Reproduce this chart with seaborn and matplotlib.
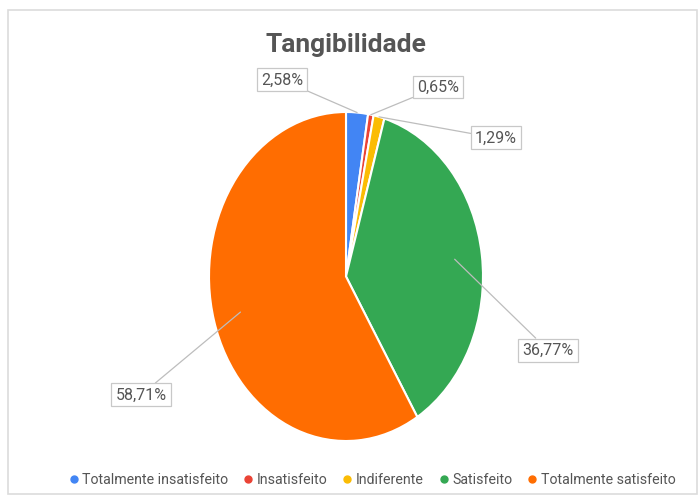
import numpy as np
import matplotlib
matplotlib.use("Agg")
import matplotlib.pyplot as plt
import matplotlib.patches as mpatches
from matplotlib.lines import Line2D
import seaborn as sns

# data
categories = ["Totalmente insatisfeito", "Insatisfeito", "Indiferente",
              "Satisfeito", "Totalmente satisfeito"]
shares = [2.58, 0.65, 1.29, 36.77, 58.71]
pct_labels = ["2,58%", "0,65%", "1,29%", "36,77%", "58,71%"]
colors = ["#4285F4", "#EA4335", "#FBBC04", "#34A853", "#FF6D01"]

sns.set_theme(style="white")
plt.rcParams["font.family"] = ["Roboto", "DejaVu Sans"]

W, H = 700, 497
fig = plt.figure(figsize=(W / 100, H / 100), dpi=100)

# outer chart frame
fig.patches.append(mpatches.Rectangle((8 / W, 3 / H), 689 / W, 484 / H,
                                      transform=fig.transFigure, fill=False,
                                      edgecolor="#dcdcdc", lw=1.2))

# pie is stretched vertically in the reference, so use a non-equal axes box
ax = fig.add_axes([209 / W, (H - 441) / H, 274 / W, 329 / H])
wedges, _ = ax.pie(shares, colors=colors, startangle=90, counterclock=False,
                   radius=1, wedgeprops=dict(edgecolor="white", linewidth=1.5))
ax.set_xlim(-1, 1)
ax.set_ylim(-1, 1)
ax.set_aspect("auto")
ax.axis("off")

# label positions (data coords) and where leader lines touch the pie
label_pos = [(-0.467, 1.195), (0.672, 1.152), (1.095, 0.842),
             (1.474, -0.447), (-1.496, -0.720)]
anchor_r = [1.0, 1.0, 1.0, 0.8, 0.8]
cum = np.cumsum([0] + shares)
for i, lab in enumerate(pct_labels):
    mid = (cum[i] + cum[i + 1]) / 2 / 100 * 2 * np.pi
    ax_pt = (anchor_r[i] * np.sin(mid), anchor_r[i] * np.cos(mid))
    ax.annotate(lab, xy=ax_pt, xytext=label_pos[i], ha="center", va="center",
                fontsize=11.5, color="#555555", annotation_clip=False,
                bbox=dict(boxstyle="square,pad=0.25", fc="white",
                          ec="#c8c8c8", lw=0.9),
                arrowprops=dict(arrowstyle="-", color="#bdbdbd", lw=0.9,
                                shrinkA=0, shrinkB=0))

fig.text(346 / W, 1 - 45 / H, "Tangibilidade", ha="center", va="center",
         fontsize=19, fontweight="bold", color="#555555")

handles = [Line2D([0], [0], marker="o", linestyle="", markersize=5,
                  markerfacecolor=c, markeredgecolor=c) for c in colors]
fig.legend(handles, categories, loc="center", bbox_to_anchor=(371 / W, 1 - 480 / H),
           ncol=5, frameon=False, fontsize=10.2, labelcolor="#555555",
           handletextpad=0.1, columnspacing=0.9, handlelength=1.0)

fig.savefig("out.png", dpi=100)
